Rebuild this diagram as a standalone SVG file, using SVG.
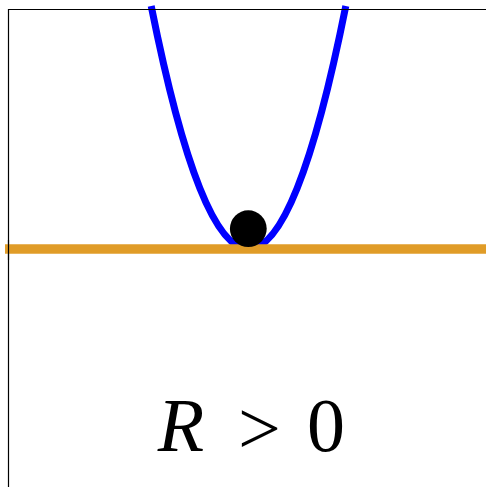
<svg xmlns="http://www.w3.org/2000/svg" width="486" height="487" viewBox="0 0 486 487">
<style>
.axis{stroke:#000;stroke-width:1.2;fill:none}
.label{font-family:"Liberation Serif","DejaVu Serif",serif;font-size:76px;fill:#000}
</style>
<rect width="486" height="487" fill="#fff"/>
<g id="axes-left"><line class="axis" x1="8.5" y1="9" x2="8.5" y2="487"/></g>
<g id="parabola"><path d="M151.2,6 Q248.5,492 345.8,6" fill="none" stroke="#0000ff" stroke-width="7"/></g>
<g id="ground"><line x1="5" y1="249" x2="486" y2="249" stroke="#e09c28" stroke-width="9.5"/></g>
<g id="axes-top"><line class="axis" x1="8" y1="9.5" x2="486" y2="9.5"/></g>
<g id="axes-left-over"><line class="axis" x1="8.5" y1="240" x2="8.5" y2="260"/></g>
<g id="ball"><circle cx="248.3" cy="228.7" r="18.4" fill="#000"/></g>
<g id="caption">
<text class="label" x="181" y="451" text-anchor="middle" font-style="italic" font-size="78">R</text>
<text class="label" x="259.5" y="454" text-anchor="middle" font-size="88">&gt;</text>
<text class="label" x="326" y="451" text-anchor="middle">0</text>
</g>
</svg>
